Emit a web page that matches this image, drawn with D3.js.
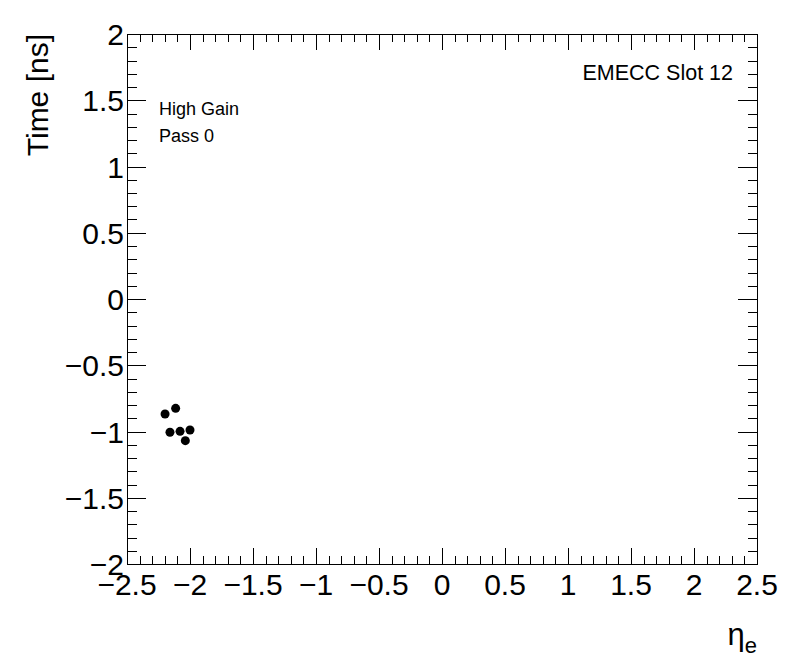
<!DOCTYPE html>
<html>
<head>
<meta charset="utf-8">
<script src="https://cdn.jsdelivr.net/npm/d3@7"></script>
<style>
body { margin: 0; background: #fff; }
svg text { font-family: "Liberation Sans", Arial, Helvetica, sans-serif; }
</style>
</head>
<body>
<svg id="chart" width="796" height="672"></svg>
<script>
// points
var etaValues = [-2.198, -2.114, -2.159, -2.079, -2.000, -2.037];
var timeValues = [-0.868, -0.825, -1.006, -0.999, -0.989, -1.069];
var xTicks = [-2.5, -2, -1.5, -1, -0.5, 0, 0.5, 1, 1.5, 2, 2.5];
var yTicks = [-2, -1.5, -1, -0.5, 0, 0.5, 1, 1.5, 2];
var labelTexts = ["High Gain", "Pass 0"];
var titleText = "EMECC Slot 12";

var frame = {left: 127, right: 757, top: 34, bottom: 564};
var svg = d3.select('#chart');

var x = d3.scaleLinear().domain([-2.5, 2.5]).range([frame.left, frame.right]);
var y = d3.scaleLinear().domain([-2, 2]).range([frame.bottom, frame.top]);

var fmt = function(d){ return String(d).replace('-', '\u2212'); };

// minor ticks every 0.1
var xMinor = d3.range(-25, 26).map(function(d){ return d / 10; });
var yMinor = d3.range(-20, 21).map(function(d){ return d / 10; });

var xMajLen = 16, xMinLen = 8, yMajLen = 19, yMinLen = 9.5;

var g = svg.append('g').attr('stroke', '#000').attr('stroke-width', 1).attr('shape-rendering', 'crispEdges');

xMinor.forEach(function(d){
	var major = Math.abs(d * 2 - Math.round(d * 2)) < 1e-6;
	var len = major ? xMajLen : xMinLen;
	var px = Math.round(x(d)) + 0.5;
	g.append('line').attr('x1', px).attr('x2', px).attr('y1', frame.bottom).attr('y2', frame.bottom - len);
	g.append('line').attr('x1', px).attr('x2', px).attr('y1', frame.top).attr('y2', frame.top + len);
});
yMinor.forEach(function(d){
	var major = Math.abs(d * 2 - Math.round(d * 2)) < 1e-6;
	var len = major ? yMajLen : yMinLen;
	var py = Math.round(y(d)) + 0.5;
	g.append('line').attr('y1', py).attr('y2', py).attr('x1', frame.left).attr('x2', frame.left + len);
	g.append('line').attr('y1', py).attr('y2', py).attr('x1', frame.right).attr('x2', frame.right - len);
});

svg.append('rect')
	.attr('x', frame.left + 0.5).attr('y', frame.top + 0.5)
	.attr('width', frame.right - frame.left).attr('height', frame.bottom - frame.top)
	.attr('fill', 'none').attr('stroke', '#000').attr('shape-rendering', 'crispEdges');

// tick labels
svg.selectAll('.xlab').data(xTicks).enter().append('text')
	.attr('class', 'xlab')
	.attr('x', function(d){ return x(d); })
	.attr('y', 595)
	.attr('text-anchor', 'middle')
	.attr('font-size', 30)
	.text(fmt);

svg.selectAll('.ylab').data(yTicks).enter().append('text')
	.attr('class', 'ylab')
	.attr('x', 124)
	.attr('y', function(d){ return y(d) + 11; })
	.attr('text-anchor', 'end')
	.attr('font-size', 30)
	.text(fmt);

// axis titles
svg.append('text')
	.attr('transform', 'translate(48,34) rotate(-90)')
	.attr('text-anchor', 'end')
	.attr('font-size', 30)
	.text('Time [ns]');

var xt = svg.append('text')
	.attr('x', 757).attr('y', 645)
	.attr('text-anchor', 'end')
	.attr('font-size', 31);
xt.append('tspan').text('\u03b7');
xt.append('tspan').attr('font-size', 22).attr('dy', 8).text('e');

// labels
svg.selectAll('.info').data(labelTexts).enter().append('text')
	.attr('class', 'info')
	.attr('x', 159)
	.attr('y', function(d, i){ return 115 + i * 27; })
	.attr('font-size', 18)
	.text(function(d){ return d; });

svg.append('text')
	.attr('x', 733).attr('y', 80)
	.attr('text-anchor', 'end')
	.attr('font-size', 21.5)
	.text(titleText);

// points
svg.selectAll('.pt').data(etaValues).enter().append('circle')
	.attr('class', 'pt')
	.attr('cx', function(d){ return x(d); })
	.attr('cy', function(d, i){ return y(timeValues[i]); })
	.attr('r', 4.5)
	.attr('fill', '#000');
</script>
</body>
</html>
